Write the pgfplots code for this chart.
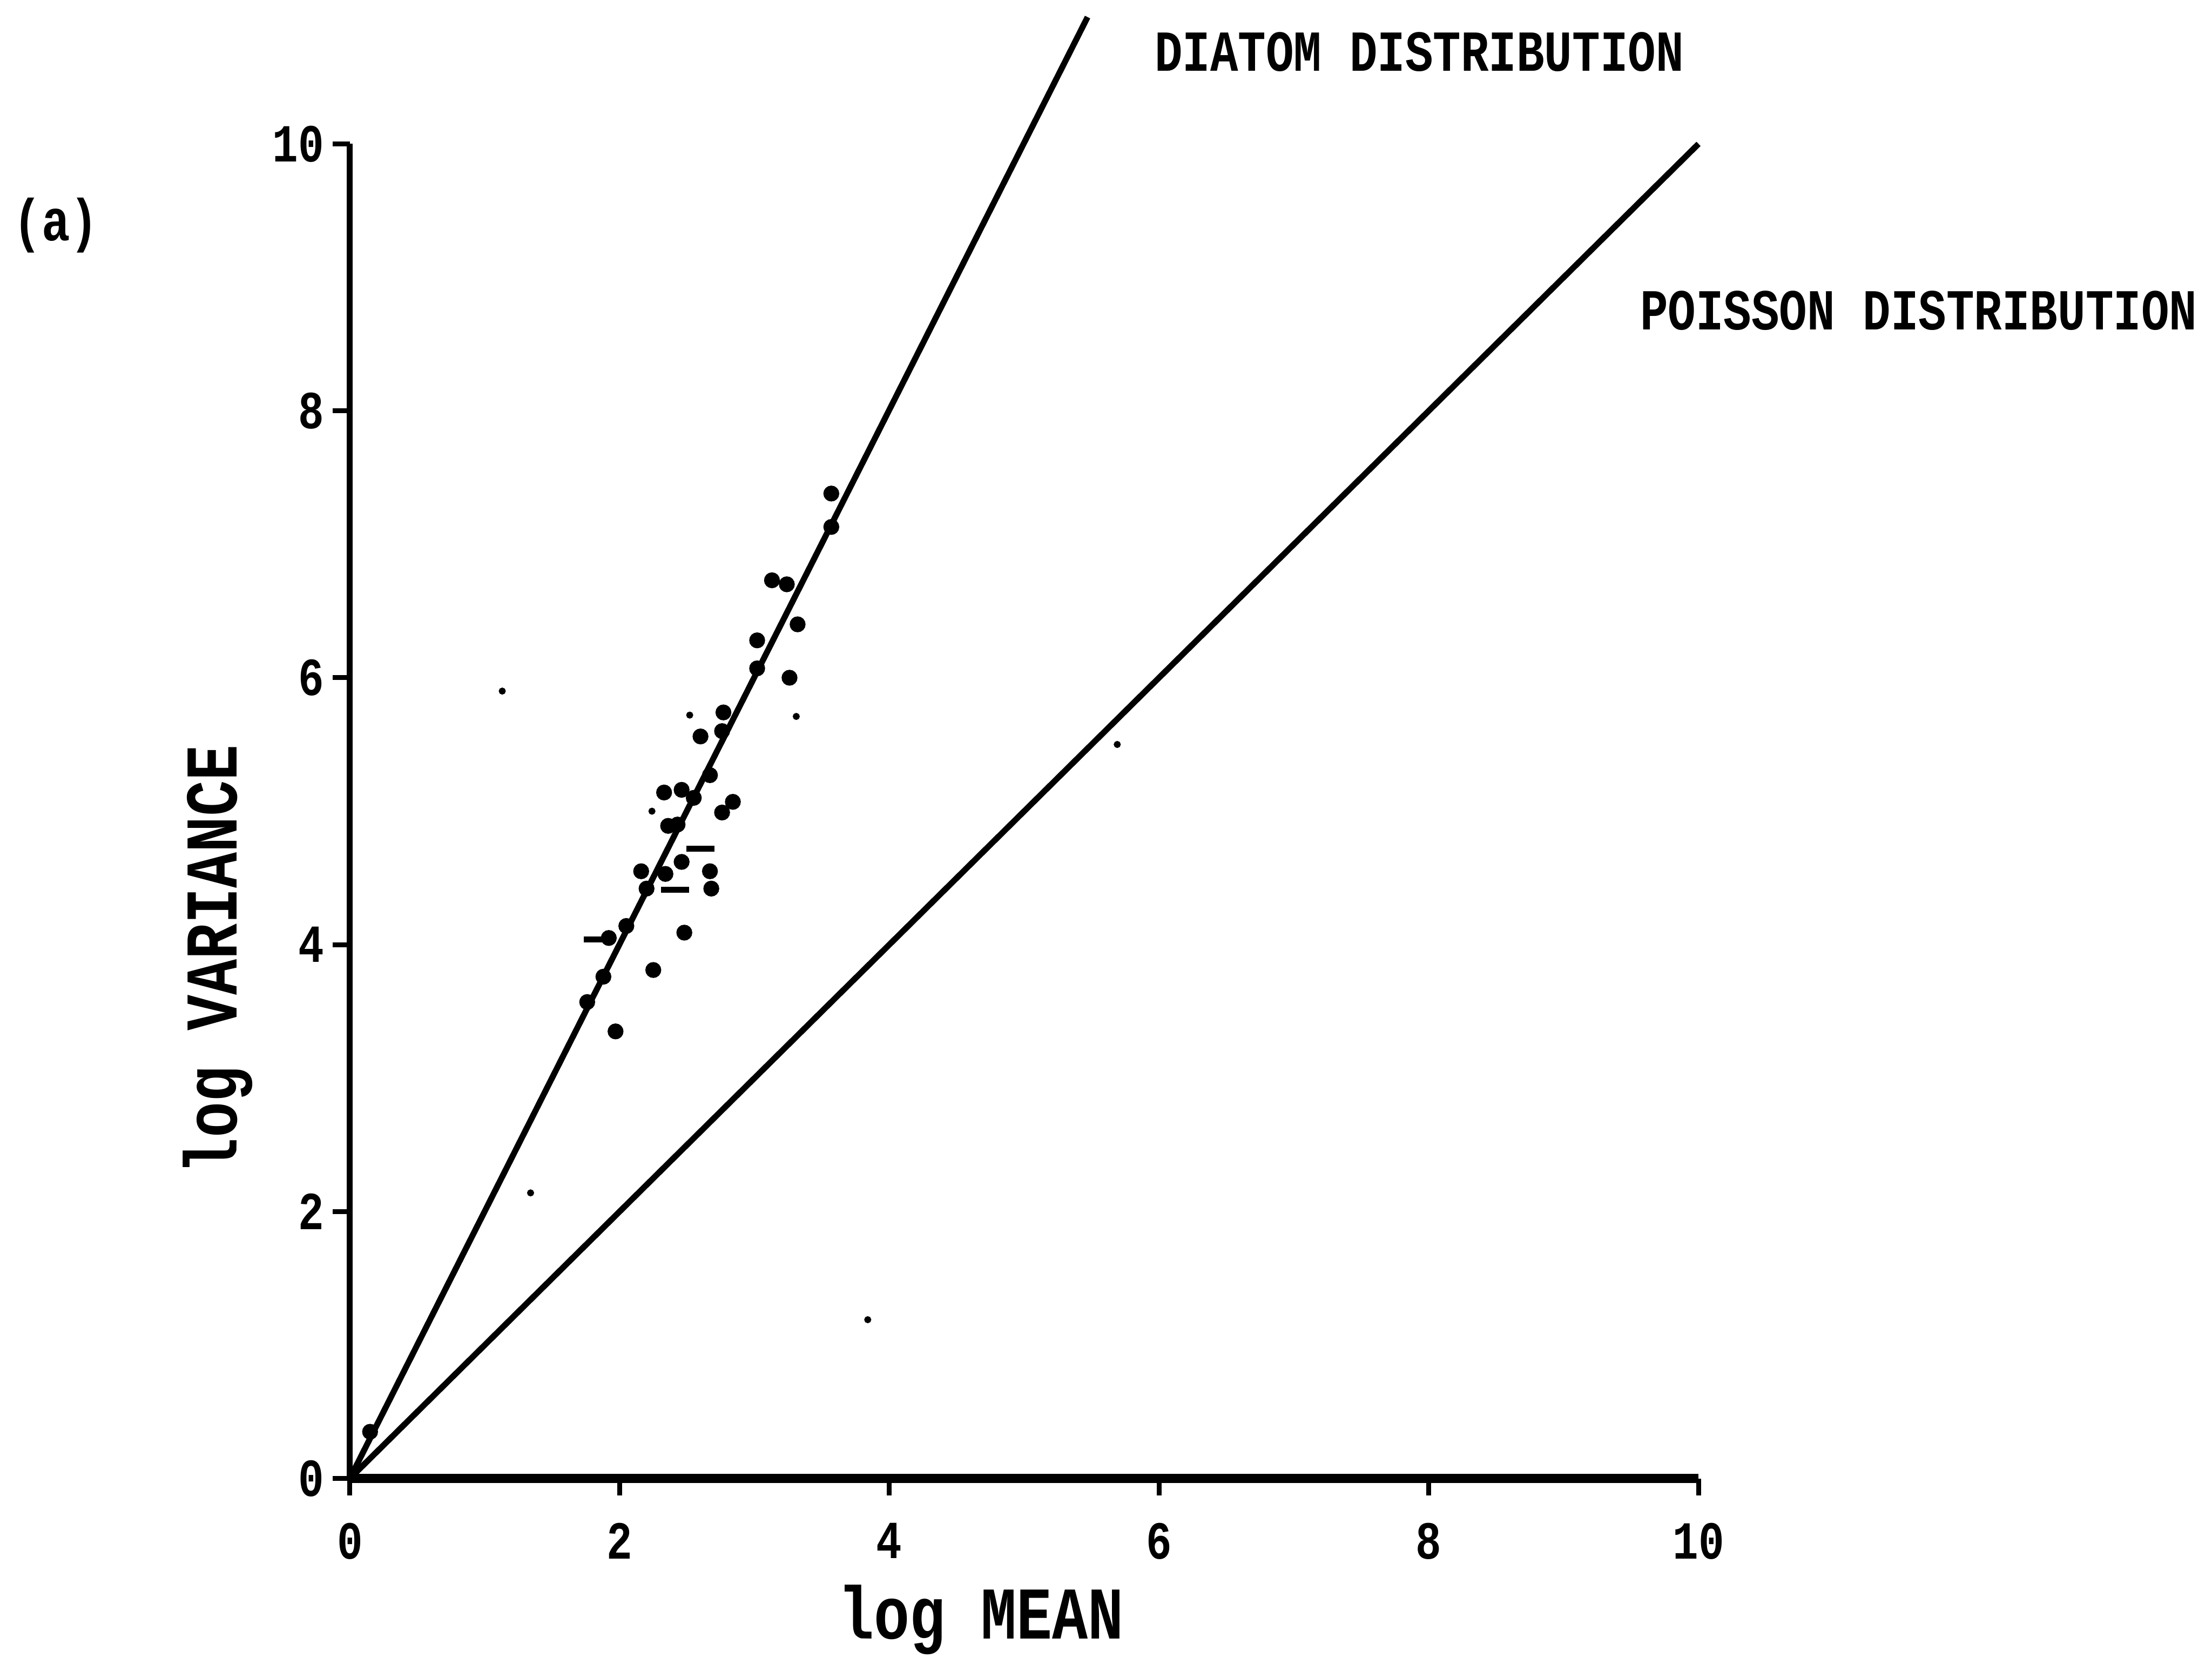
\documentclass[border=0pt]{standalone}
\usepackage{fontspec}
\setmainfont{Liberation Mono}[FakeStretch=0.8]
\usepackage{pgfplots}
\pgfplotsset{compat=1.18}
\begin{document}
\begin{tikzpicture}
\path[use as bounding box] (-24.8mm,-12.7mm) rectangle (132mm,104.8mm);
\begin{axis}[
  scale only axis,
  width=95.6mm, height=94.6mm,
  xmin=0, xmax=10, ymin=0, ymax=10,
  axis lines=left,
  axis line style={-},
  x axis line style={line width=1.8pt},
  y axis line style={line width=1.2pt},
  xtick={0,2,4,6,8,10}, ytick={0,2,4,6,8,10},
  tick align=outside,
  major tick length=1.2mm,
  tick style={line width=1pt, black},
  /pgf/number format/assume math mode=true,
  tick label style={font=\bfseries\fontsize{10.8}{12}\selectfont},
  xticklabel style={yshift=-0.7mm},
  yticklabel style={xshift=0.6mm},
  xlabel={log MEAN}, ylabel={log VARIANCE},
  label style={font=\bfseries\fontsize{15}{17}\selectfont},
  x label style={at={(rel axis cs:0.468,-0.106)}, anchor=center},
  y label style={at={(rel axis cs:-0.098,0.389)}, anchor=center},
  clip=false,
]
\addplot[black, line width=1.2pt] coordinates {(0,0) (5.47,10.95)};
\addplot[black, line width=1.2pt] coordinates {(0,0) (10,10)};
\addplot[only marks, mark=*, mark size=1.4pt, black] coordinates {
(3.57,7.38) (3.57,7.13) (3.13,6.73) (3.24,6.70) (3.32,6.40) (3.02,6.28)
(3.02,6.07) (3.26,6.00) (2.77,5.74) (2.76,5.60) (2.60,5.56) (2.33,5.14)
(2.46,5.16) (2.55,5.10) (2.76,4.99) (2.84,5.07) (2.36,4.89) (2.43,4.90)
(2.67,5.27) (2.46,4.62) (2.67,4.55) (2.68,4.42) (2.16,4.55)
(2.20,4.42) (2.34,4.53) (2.48,4.09) (1.92,4.05) (2.05,4.14)
(2.25,3.81) (1.76,3.57) (1.97,3.35) (1.88,3.76) (0.15,0.35)
};
\addplot[only marks, mark=-, mark size=1mm, mark options={line width=1.2pt}, black] coordinates {
(2.60,4.72) (2.41,4.41) (1.84,4.04)
};
\addplot[only marks, mark=*, mark size=0.5pt, black] coordinates {
(2.52,5.72) (2.24,5.00) (3.31,5.71) (1.13,5.90) (5.69,5.50) (1.34,2.14) (3.84,1.19)
};
\node[anchor=west, inner sep=0pt, font=\bfseries\fontsize{11.7}{14}\selectfont] at (axis cs:5.96,10.69) {DIATOM DISTRIBUTION};
\node[anchor=west, inner sep=0pt, font=\bfseries\fontsize{11.7}{14}\selectfont] at (axis cs:9.56,8.75) {POISSON DISTRIBUTION};
\node[font=\bfseries\fontsize{11.9}{14}\selectfont] at (axis cs:-2.18,9.39) {(a)};
\end{axis}
\end{tikzpicture}
\end{document}
